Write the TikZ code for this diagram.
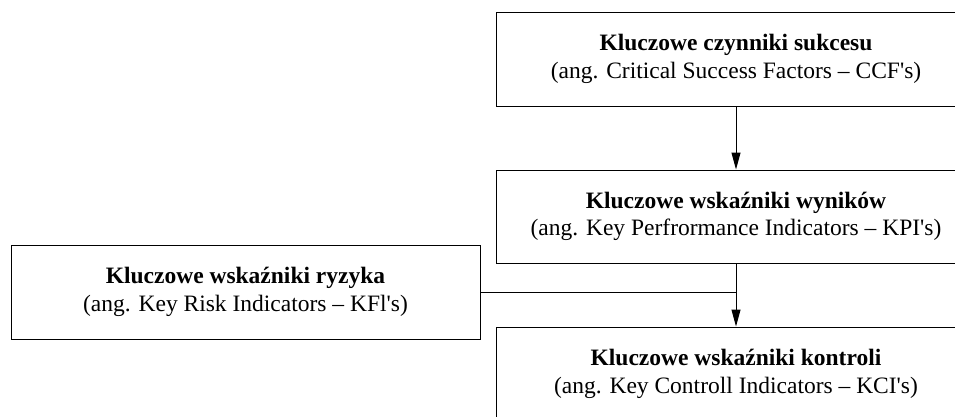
\documentclass[tikz,border=0pt]{standalone}
\usepackage{fontspec}
\setmainfont{Liberation Serif}
\usetikzlibrary{arrows.meta}
\begin{document}
\begin{tikzpicture}[x=1pt,y=1pt,
  box/.style={draw, line width=1pt, minimum width=480pt, minimum height=94pt, align=center, inner sep=0pt,
    font=\fontsize{23.5}{27.5}\selectfont},
  leftbox/.style={box, minimum width=469pt},
  conn/.style={line width=1pt},
  arr/.style={conn, -{Triangle[length=17pt,width=9pt]}}]
\clip (0,0) rectangle (955,-416);
\fill[white] (0,0) rectangle (955,-416);
\node[box] (b1) at (736,-59) {\textbf{Kluczowe czynniki sukcesu}\\(ang. Critical Success Factors – CCF\textquotesingle s)};
\node[box, minimum height=93pt] (b2) at (736,-216.5) {\textbf{Kluczowe wskaźniki wyników}\\(ang. Key Perfrormance Indicators – KPI\textquotesingle s)};
\node[leftbox] (b3) at (245.5,-292) {\textbf{Kluczowe wskaźniki ryzyka}\\(ang. Key Risk Indicators – KFl\textquotesingle s)};
\node[box] (b4) at (736,-374) {\textbf{Kluczowe wskaźniki kontroli}\\(ang. Key Controll Indicators – KCI\textquotesingle s)};
\draw[arr] (b1) -- (b2);
\draw[arr] (b2) -- (b4);
\coordinate (j) at (b3.east -| b2.south);
\draw[conn] (b3.east) -- (j);
\end{tikzpicture}
\end{document}
